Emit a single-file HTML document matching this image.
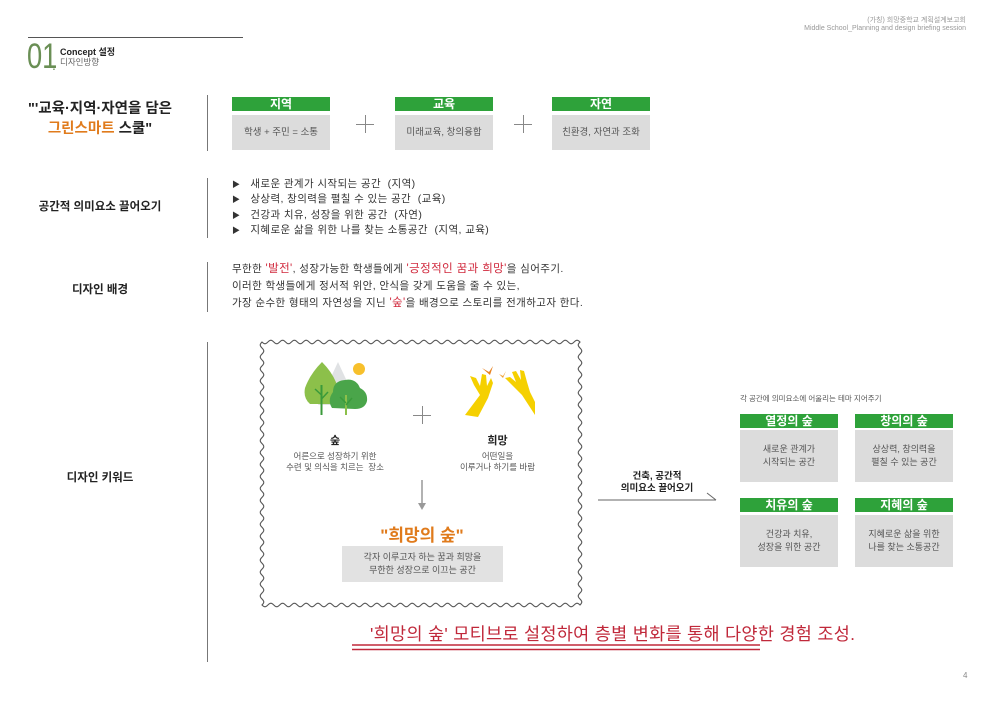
<!DOCTYPE html>
<html><head><meta charset="utf-8">
<style>
*{margin:0;padding:0;box-sizing:border-box}
body{width:992px;height:701px;background:#fff;position:relative;overflow:hidden;font-family:"Liberation Sans","Noto Sans CJK KR",sans-serif;color:#333}
.a{position:absolute;white-space:nowrap}
.c{text-align:center}
.vl{position:absolute;left:207px;width:1px;background:#777}
.gh{position:absolute;height:14px;background:#2ea23a;color:#fff;font-weight:bold;font-size:12px;line-height:14px;text-align:center}
.gb{position:absolute;background:#dcdcdc;color:#555;font-size:9.5px;text-align:center;display:flex;align-items:center;justify-content:center;line-height:13px}
.plus{position:absolute;width:18px;height:18px}
.plus:before{content:"";position:absolute;left:0;top:8.5px;width:18px;height:1px;background:#888}
.plus:after{content:"";position:absolute;top:0;left:8.5px;height:18px;width:1px;background:#888}
.lbl{position:absolute;left:20px;width:160px;text-align:center;font-weight:bold;font-size:11.5px;color:#222}
.r{color:#d0283c}
</style></head><body>
<div class="a" style="left:28px;top:37px;width:215px;height:1px;background:#555"></div>
<div class="a" style="left:27px;top:37px;font-size:35px;color:#6a8f55;transform:scaleX(0.78);transform-origin:left top">01</div>
<div class="a" style="left:52px;top:57px;font-size:14px;color:#6a8f55">.</div>
<div class="a" style="left:60px;top:45px;font-size:9px;font-weight:bold;color:#222">Concept 설정</div>
<div class="a" style="left:60px;top:56px;font-size:8.5px;color:#666">디자인방향</div>
<div class="a" style="right:26px;top:15px;font-size:7px;color:#999;text-align:right">(가칭) 희망중학교 계획설계보고회<br>Middle School_Planning and design briefing session</div>

<div class="a c" style="left:20px;width:160px;top:99px;font-size:14.5px;font-weight:bold;color:#222;line-height:20px">"'교육·지역·자연을 담은<br><span style="color:#e07b1c">그린스마트</span> 스쿨"</div>
<div class="vl" style="top:95px;height:56px"></div>
<div class="gh" style="left:232px;top:97px;width:98px">지역</div>
<div class="gb" style="left:232px;top:115px;width:98px;height:35px">학생 + 주민 = 소통</div>
<div class="plus" style="left:356px;top:115px"></div>
<div class="gh" style="left:395px;top:97px;width:98px">교육</div>
<div class="gb" style="left:395px;top:115px;width:98px;height:35px">미래교육, 창의융합</div>
<div class="plus" style="left:514px;top:115px"></div>
<div class="gh" style="left:552px;top:97px;width:98px">자연</div>
<div class="gb" style="left:552px;top:115px;width:98px;height:35px">친환경, 자연과 조화</div>

<div class="lbl" style="top:198px">공간적 의미요소 끌어오기</div>
<div class="vl" style="top:178px;height:60px"></div>
<div class="a" style="left:232px;top:177px;font-size:10.5px;line-height:15.3px;color:#333;letter-spacing:0.4px">
<span style="font-size:8px">▶</span>&nbsp;&nbsp; 새로운 관계가 시작되는 공간 &nbsp;(지역)<br>
<span style="font-size:8px">▶</span>&nbsp;&nbsp; 상상력, 창의력을 펼칠 수 있는 공간 &nbsp;(교육)<br>
<span style="font-size:8px">▶</span>&nbsp;&nbsp; 건강과 치유, 성장을 위한 공간 &nbsp;(자연)<br>
<span style="font-size:8px">▶</span>&nbsp;&nbsp; 지혜로운 삶을 위한 나를 찾는 소통공간 &nbsp;(지역, 교육)</div>

<div class="lbl" style="top:281px">디자인 배경</div>
<div class="vl" style="top:262px;height:50px"></div>
<div class="a" style="left:232px;top:261px;font-size:10.5px;line-height:17px;color:#333;letter-spacing:0.4px">
무한한 <span class="r" style="font-size:11.5px">'발전'</span>, 성장가능한 학생들에게 <span class="r" style="font-size:11.5px">'긍정적인 꿈과 희망'</span>을 심어주기.<br>
이러한 학생들에게 정서적 위안, 안식을 갖게 도움을 줄 수 있는,<br>
가장 순수한 형태의 자연성을 지닌 <span class="r" style="font-size:11.5px">'숲'</span>을 배경으로 스토리를 전개하고자 한다.</div>

<div class="lbl" style="top:469px">디자인 키워드</div>
<div class="vl" style="top:342px;height:320px"></div>

<svg class="a" style="left:0;top:0" width="992" height="701">
<path id="wave" fill="none" stroke="#555" stroke-width="1.1"/>
<polygon points="318,405 338,362 358,405" fill="#e0e2e4"/>
<circle cx="359" cy="369" r="6" fill="#f7c02c"/>
<path d="M310,404 Q303,398 305,388 Q310,374 322,362 Q334,374 338,388 Q340,398 333,404Z" fill="#8cc04a"/>
<path d="M332,408 Q327,400 333,392 Q333,381 345,380 Q356,378 360,388 Q368,392 367,401 Q365,409 355,409Z" fill="#4aa54a"/>
<rect x="320.5" y="385" width="2" height="30" fill="#3a9a3a"/>
<rect x="345" y="395" width="2" height="20" fill="#8cc04a"/>
<path d="M321.5,395 L315,389 M321.5,399 L328,392 M346,403 L340,397 M346,405 L352,398" stroke="#3a9a3a" stroke-width="1.5"/>
<path d="M465,415 L480,395 L474,385 L470,376 L476,378 L480,386 L482,374 L486,375 L487,386 L491,378 L493,383 L488,398 L478,417Z" fill="#f5d000"/>
<path d="M535,415 L522,395 L512,385 L505,378 L510,377 L516,382 L512,372 L516,371 L521,380 L520,370 L524,371 L527,382 L530,392 L535,402Z" fill="#f5d000"/>
<path d="M482,368 L489,372 L493,366 L490,375 Z" fill="#e8821f"/>
<path d="M499,374 L503,376 L506,371 L503,378 Z" fill="#f0a030"/>
<line x1="422" y1="480" x2="422" y2="505" stroke="#999" stroke-width="1.5"/>
<polygon points="418,503 426,503 422,510" fill="#999"/>
<line x1="598" y1="500" x2="716" y2="500" stroke="#666" stroke-width="1"/>
<line x1="707" y1="493" x2="716" y2="500" stroke="#666" stroke-width="1"/>
<line x1="352" y1="645" x2="760" y2="645" stroke="#c0283a" stroke-width="1.6"/>
<line x1="352" y1="649.5" x2="760" y2="649.5" stroke="#c0283a" stroke-width="1.6"/>
</svg>
<script>
(function(){var x0=262,y0=342,x1=580,y1=605,a=1.8,w=12,d="";
function seg(xa,ya,xb,yb,first){var len=Math.hypot(xb-xa,yb-ya),n=Math.round(len/w),ux=(xb-xa)/len,uy=(yb-ya)/len,nx=-uy,ny=ux,s="";
for(var i=0;i<=n*10;i++){var t=i/(n*10),px=xa+(xb-xa)*t,py=ya+(yb-ya)*t,o=a*Math.sin(t*n*2*Math.PI);s+=(i==0&&first?"M":"L")+(px+nx*o).toFixed(2)+","+(py+ny*o).toFixed(2);}return s;}
d=seg(x0,y0,x1,y0,1)+seg(x1,y0,x1,y1)+seg(x1,y1,x0,y1)+seg(x0,y1,x0,y0)+"Z";
document.getElementById("wave").setAttribute("d",d);})();
</script>
<div class="plus" style="left:413px;top:406px"></div>
<div class="a c" style="left:265px;width:140px;top:432px;font-size:11px;font-weight:bold;color:#222">숲</div>
<div class="a c" style="left:265px;width:140px;top:451px;font-size:8.5px;line-height:11px;color:#555">어른으로 성장하기 위한<br>수련 및 의식을 치르는 &nbsp;장소</div>
<div class="a c" style="left:430px;width:135px;top:432px;font-size:11px;font-weight:bold;color:#222">희망</div>
<div class="a c" style="left:430px;width:135px;top:451px;font-size:8.5px;line-height:11px;color:#555">어떤일을<br>이루거나 하기를 바람</div>
<div class="a c" style="left:342px;width:160px;top:521px;font-size:17px;font-weight:bold;color:#e07b1c">"희망의 숲"</div>
<div class="gb" style="left:342px;top:546px;width:161px;height:36px;font-size:9px;background:#e2e2e2">각자 이루고자 하는 꿈과 희망을<br>무한한 성장으로 이끄는 공간</div>

<div class="a c" style="left:598px;width:118px;top:471px;font-size:9.5px;font-weight:bold;line-height:12px;color:#222">건축, 공간적<br>의미요소 끌어오기</div>

<div class="a" style="left:740px;top:393px;font-size:7.5px;color:#555">각 공간에 의미요소에 어울리는 테마 지어주기</div>
<div class="gh" style="left:740px;top:414px;width:98px">열정의 숲</div>
<div class="gb" style="left:740px;top:430px;width:98px;height:52px;font-size:9px">새로운 관계가<br>시작되는 공간</div>
<div class="gh" style="left:855px;top:414px;width:98px">창의의 숲</div>
<div class="gb" style="left:855px;top:430px;width:98px;height:52px;font-size:9px">상상력, 창의력을<br>펼칠 수 있는 공간</div>
<div class="gh" style="left:740px;top:498px;width:98px">치유의 숲</div>
<div class="gb" style="left:740px;top:515px;width:98px;height:52px;font-size:9px">건강과 치유,<br>성장을 위한 공간</div>
<div class="gh" style="left:855px;top:498px;width:98px">지혜의 숲</div>
<div class="gb" style="left:855px;top:515px;width:98px;height:52px;font-size:9px">지혜로운 삶을 위한<br>나를 찾는 소통공간</div>

<div class="a" style="left:370px;top:621px;font-size:17.5px;color:#c0283a;letter-spacing:0.3px">'희망의 숲' 모티브로 설정하여 층별 변화를 통해 다양한 경험 조성.</div>
<div class="a" style="left:963px;top:671px;font-size:8px;color:#888">4</div>
</body></html>
